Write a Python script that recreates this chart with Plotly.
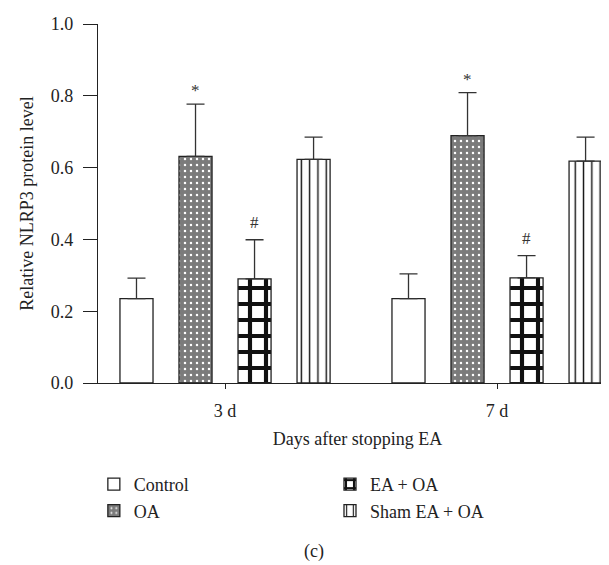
import plotly.graph_objects as go

categories = ["3 d", "7 d"]
groups = ["Control", "OA", "EA + OA", "Sham EA + OA"]
control_mean = [0.235, 0.235]
control_sd = [0.057, 0.069]
oa_mean = [0.631, 0.689]
oa_sd = [0.146, 0.120]
ea_mean = [0.290, 0.293]
ea_sd = [0.109, 0.062]
sham_mean = [0.623, 0.618]
sham_sd = [0.062, 0.067]
oa_marks = ["*", "*"]
ea_marks = ["#", "#"]
y_ticks = [0.0, 0.2, 0.4, 0.6, 0.8, 1.0]

FONT = "Liberation Serif"
FS = 18
means = [control_mean, oa_mean, ea_mean, sham_mean]
sds = [control_sd, oa_sd, ea_sd, sham_sd]
patterns = [
    dict(shape="", bgcolor="white"),
    dict(shape=".", fgcolor="white", bgcolor="#7b7b7b", size=6, solidity=0.13, fillmode="replace"),
    dict(shape="+", fgcolor="#111111", bgcolor="white", size=16, solidity=0.45, fillmode="replace"),
    dict(shape="|", fgcolor="#111111", bgcolor="white", size=8.3, solidity=0.17, fillmode="replace"),
]
fills = ["white", "#7b7b7b", "white", "white"]
legend_ids = ["legend", "legend", "legend2", "legend2"]

fig = go.Figure()
for i, name in enumerate(groups):
    fig.add_trace(go.Bar(
        x=categories, y=means[i], name=name,
        marker=dict(color=fills[i], pattern=patterns[i], line=dict(color="#222222", width=1.3)),
        error_y=dict(type="data", array=sds[i], symmetric=False, arrayminus=[0, 0],
                     color="#333333", thickness=1.3, width=9),
        legend=legend_ids[i], legendgroup=name,
    ))

annotations = []
for j, c in enumerate(categories):
    annotations.append(dict(x=c, y=oa_mean[j] + oa_sd[j], xref="x", yref="y", text=oa_marks[j],
                            showarrow=False, xshift=-29.5, yshift=2, yanchor="bottom",
                            font=dict(family=FONT, size=17, color="#333333")))
    annotations.append(dict(x=c, y=ea_mean[j] + ea_sd[j], xref="x", yref="y", text=ea_marks[j],
                            showarrow=False, xshift=29.5, yshift=6, yanchor="bottom",
                            font=dict(family=FONT, size=17, color="#333333")))
annotations.append(dict(x=(306 - 90) / 519, y=-0.47, xref="paper", yref="paper", text="(c)",
                        showarrow=False, yanchor="middle",
                        font=dict(family=FONT, size=FS, color="#222222")))

fig.update_layout(
    width=609, height=565,
    margin=dict(l=90, r=0, t=16, b=190),
    paper_bgcolor="white", plot_bgcolor="white",
    barmode="group", bargap=0.132, bargroupgap=0.44,
    font=dict(family=FONT, size=FS, color="#222222"),
    showlegend=True,
    legend=dict(x=-0.008, y=-0.231, xanchor="left", yanchor="top", orientation="v",
                tracegroupgap=0, font=dict(family=FONT, size=FS), bgcolor="rgba(0,0,0,0)"),
    legend2=dict(x=0.447, y=-0.231, xanchor="left", yanchor="top", orientation="v",
                 tracegroupgap=0, font=dict(family=FONT, size=FS), bgcolor="rgba(0,0,0,0)"),
    annotations=annotations,
    xaxis=dict(
        range=[-0.467, 1.441], showline=True, linecolor="#222222", linewidth=1.3,
        ticks="outside", ticklen=5, tickcolor="#222222", showgrid=False, zeroline=False,
        tickfont=dict(family=FONT, size=FS), ticklabelstandoff=6,
        title=dict(text="Days after stopping EA", font=dict(family=FONT, size=FS), standoff=12),
    ),
    yaxis=dict(
        range=[0, 1.0], tickvals=y_ticks, tickformat=".1f", showline=True, linecolor="#222222",
        linewidth=1.3, ticks="outside", ticklen=14, tickcolor="#222222", showgrid=False,
        zeroline=False, tickfont=dict(family=FONT, size=FS), ticklabelstandoff=6,
        title=dict(text="Relative NLRP3 protein level", font=dict(family=FONT, size=FS), standoff=12),
    ),
)

fig.write_html("out.html")
